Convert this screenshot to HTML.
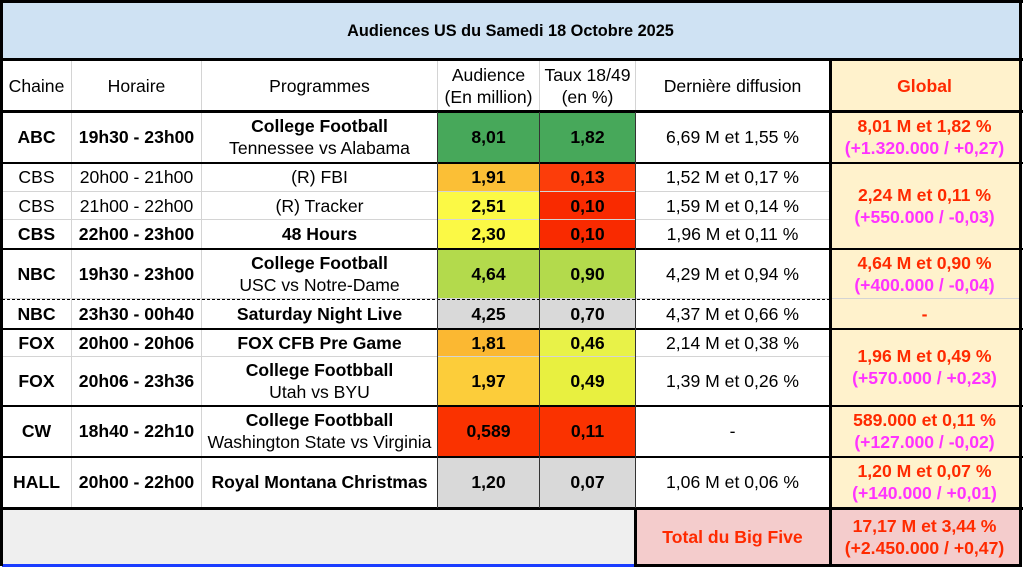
<!DOCTYPE html>
<html><head><meta charset="utf-8"><style>
body{margin:0;background:#fff;width:1023px;height:569px;position:relative;overflow:hidden;font-family:"Liberation Sans",Arial,sans-serif;color:#000}
.c{position:absolute;box-sizing:border-box;display:flex;flex-direction:column;align-items:center;justify-content:center;text-align:center;font-size:17.6px;line-height:22px;border-right:1px solid #d4d4d4;border-bottom:1px solid #d4d4d4;white-space:nowrap}
.b{font-weight:bold}
.r{color:#ff2a00;font-weight:bold}
.m{color:#ff33ff;font-weight:bold}
.h{position:absolute;background:#000}
.g{background:#fff2cc}
</style></head><body>
<div class="c b" style="left:2px;top:2px;width:1018px;height:58px;background:#cfe2f3;font-size:16.3px">Audiences US du Samedi 18 Octobre 2025</div>

<div class="c" style="left:2px;top:61px;width:70px;height:51px">Chaine</div>
<div class="c" style="left:72px;top:61px;width:130px;height:51px">Horaire</div>
<div class="c" style="left:202px;top:61px;width:236px;height:51px">Programmes</div>
<div class="c" style="left:438px;top:61px;width:102px;height:51px">Audience<br>(En million)</div>
<div class="c" style="left:540px;top:61px;width:96px;height:51px">Taux 18/49<br>(en %)</div>
<div class="c" style="left:636px;top:61px;width:194px;height:51px">Dernière diffusion</div>
<div class="c g r" style="left:830px;top:61px;width:190px;height:51px">Global</div>

<div class="c b" style="left:2px;top:112px;width:70px;height:51px">ABC</div>
<div class="c b" style="left:72px;top:112px;width:130px;height:51px">19h30 - 23h00</div>
<div class="c" style="left:202px;top:112px;width:236px;height:51px"><b>College Football</b>Tennessee vs Alabama</div>
<div class="c b" style="left:438px;top:112px;width:102px;height:51px;background:#47a85a">8,01</div>
<div class="c b" style="left:540px;top:112px;width:96px;height:51px;background:#47a85a">1,82</div>
<div class="c" style="left:636px;top:112px;width:194px;height:51px">6,69 M et 1,55 %</div>
<div class="c g" style="left:830px;top:112px;width:190px;height:51px"><span class="r">8,01 M et 1,82 %</span><span class="m">(+1.320.000 / +0,27)</span></div>

<div class="c" style="left:2px;top:163px;width:70px;height:29px">CBS</div>
<div class="c" style="left:72px;top:163px;width:130px;height:29px">20h00 - 21h00</div>
<div class="c" style="left:202px;top:163px;width:236px;height:29px">(R) FBI</div>
<div class="c b" style="left:438px;top:163px;width:102px;height:29px;background:#fbbf36">1,91</div>
<div class="c b" style="left:540px;top:163px;width:96px;height:29px;background:#fc3d0a">0,13</div>
<div class="c" style="left:636px;top:163px;width:194px;height:29px">1,52 M et 0,17 %</div>

<div class="c" style="left:2px;top:192px;width:70px;height:28px">CBS</div>
<div class="c" style="left:72px;top:192px;width:130px;height:28px">21h00 - 22h00</div>
<div class="c" style="left:202px;top:192px;width:236px;height:28px">(R) Tracker</div>
<div class="c b" style="left:438px;top:192px;width:102px;height:28px;background:#fbf945">2,51</div>
<div class="c b" style="left:540px;top:192px;width:96px;height:28px;background:#f92a00">0,10</div>
<div class="c" style="left:636px;top:192px;width:194px;height:28px">1,59 M et 0,14 %</div>

<div class="c b" style="left:2px;top:220px;width:70px;height:29px">CBS</div>
<div class="c b" style="left:72px;top:220px;width:130px;height:29px">22h00 - 23h00</div>
<div class="c b" style="left:202px;top:220px;width:236px;height:29px">48 Hours</div>
<div class="c b" style="left:438px;top:220px;width:102px;height:29px;background:#fbf945">2,30</div>
<div class="c b" style="left:540px;top:220px;width:96px;height:29px;background:#f92a00">0,10</div>
<div class="c" style="left:636px;top:220px;width:194px;height:29px">1,96 M et 0,11 %</div>
<div class="c g" style="left:830px;top:163px;width:190px;height:86px"><span class="r">2,24 M et 0,11 %</span><span class="m">(+550.000 / -0,03)</span></div>

<div class="c b" style="left:2px;top:249px;width:70px;height:50px">NBC</div>
<div class="c b" style="left:72px;top:249px;width:130px;height:50px">19h30 - 23h00</div>
<div class="c" style="left:202px;top:249px;width:236px;height:50px"><b>College Football</b>USC vs Notre-Dame</div>
<div class="c b" style="left:438px;top:249px;width:102px;height:50px;background:#b3da4c">4,64</div>
<div class="c b" style="left:540px;top:249px;width:96px;height:50px;background:#b3da4c">0,90</div>
<div class="c" style="left:636px;top:249px;width:194px;height:50px">4,29 M et 0,94 %</div>
<div class="c g" style="left:830px;top:249px;width:190px;height:50px"><span class="r">4,64 M et 0,90 %</span><span class="m">(+400.000 / -0,04)</span></div>

<div class="c b" style="left:2px;top:299px;width:70px;height:30px">NBC</div>
<div class="c b" style="left:72px;top:299px;width:130px;height:30px">23h30 - 00h40</div>
<div class="c b" style="left:202px;top:299px;width:236px;height:30px">Saturday Night Live</div>
<div class="c b" style="left:438px;top:299px;width:102px;height:30px;background:#d9d9d9">4,25</div>
<div class="c b" style="left:540px;top:299px;width:96px;height:30px;background:#d9d9d9">0,70</div>
<div class="c" style="left:636px;top:299px;width:194px;height:30px">4,37 M et 0,66 %</div>
<div class="c g r" style="left:830px;top:299px;width:190px;height:30px">-</div>

<div class="c b" style="left:2px;top:329px;width:70px;height:28px">FOX</div>
<div class="c b" style="left:72px;top:329px;width:130px;height:28px">20h00 - 20h06</div>
<div class="c b" style="left:202px;top:329px;width:236px;height:28px">FOX CFB Pre Game</div>
<div class="c b" style="left:438px;top:329px;width:102px;height:28px;background:#fbb832">1,81</div>
<div class="c b" style="left:540px;top:329px;width:96px;height:28px;background:#e8f248">0,46</div>
<div class="c" style="left:636px;top:329px;width:194px;height:28px">2,14 M et 0,38 %</div>

<div class="c b" style="left:2px;top:357px;width:70px;height:49px">FOX</div>
<div class="c b" style="left:72px;top:357px;width:130px;height:49px">20h06 - 23h36</div>
<div class="c" style="left:202px;top:357px;width:236px;height:49px"><b>College Footbball</b>Utah vs BYU</div>
<div class="c b" style="left:438px;top:357px;width:102px;height:49px;background:#fccd3a">1,97</div>
<div class="c b" style="left:540px;top:357px;width:96px;height:49px;background:#e8f040">0,49</div>
<div class="c" style="left:636px;top:357px;width:194px;height:49px">1,39 M et 0,26 %</div>
<div class="c g" style="left:830px;top:329px;width:190px;height:77px"><span class="r">1,96 M et 0,49 %</span><span class="m">(+570.000 / +0,23)</span></div>

<div class="c b" style="left:2px;top:406px;width:70px;height:51px">CW</div>
<div class="c b" style="left:72px;top:406px;width:130px;height:51px">18h40 - 22h10</div>
<div class="c" style="left:202px;top:406px;width:236px;height:51px"><b>College Footbball</b>Washington State vs Virginia</div>
<div class="c b" style="left:438px;top:406px;width:102px;height:51px;background:#fa3200">0,589</div>
<div class="c b" style="left:540px;top:406px;width:96px;height:51px;background:#fa3200">0,11</div>
<div class="c" style="left:636px;top:406px;width:194px;height:51px">-</div>
<div class="c g" style="left:830px;top:406px;width:190px;height:51px"><span class="r">589.000 et 0,11 %</span><span class="m">(+127.000 / -0,02)</span></div>

<div class="c b" style="left:2px;top:457px;width:70px;height:51px">HALL</div>
<div class="c b" style="left:72px;top:457px;width:130px;height:51px">20h00 - 22h00</div>
<div class="c b" style="left:202px;top:457px;width:236px;height:51px">Royal Montana Christmas</div>
<div class="c b" style="left:438px;top:457px;width:102px;height:51px;background:#d9d9d9">1,20</div>
<div class="c b" style="left:540px;top:457px;width:96px;height:51px;background:#d9d9d9">0,07</div>
<div class="c" style="left:636px;top:457px;width:194px;height:51px">1,06 M et 0,06 %</div>
<div class="c g" style="left:830px;top:457px;width:190px;height:51px"><span class="r">1,20 M et 0,07 %</span><span class="m">(+140.000 / +0,01)</span></div>

<div class="c" style="left:2px;top:508px;width:634px;height:58px;background:#efefef"></div>
<div class="c r" style="left:636px;top:508px;width:194px;height:58px;background:#f4cccc">Total du Big Five</div>
<div class="c" style="left:830px;top:508px;width:190px;height:58px;background:#f4cccc"><span class="r">17,17 M et 3,44 %</span><span class="r">(+2.450.000 / +0,47)</span></div>
<div class="h" style="left:2px;top:564px;width:634px;height:3px;background:#1a3cff"></div>

<div class="h" style="left:0;top:0;width:1023px;height:3px"></div>
<div class="h" style="left:0;top:58px;width:1023px;height:3px"></div>
<div class="h" style="left:0;top:110px;width:1023px;height:3px"></div>
<div class="h" style="left:0;top:162px;width:1023px;height:2px"></div>
<div class="h" style="left:0;top:248px;width:1023px;height:2px"></div>
<div class="h" style="left:0;top:328px;width:1023px;height:2px"></div>
<div class="h" style="left:0;top:405px;width:1023px;height:2px"></div>
<div class="h" style="left:0;top:456px;width:1023px;height:2px"></div>
<div class="h" style="left:0;top:507px;width:1023px;height:3px"></div>
<div class="h" style="left:636px;top:564px;width:386px;height:3px"></div>
<div style="position:absolute;left:2px;top:299px;width:828px;border-top:1px dashed #000"></div>
<div class="h" style="left:0;top:0;width:3px;height:566px"></div>
<div class="h" style="left:1019px;top:0;width:3px;height:567px"></div>
<div class="h" style="left:829px;top:61px;width:3px;height:506px"></div>
<div class="h" style="left:634px;top:508px;width:3px;height:59px"></div>
<div class="h" style="left:437px;top:112px;width:1px;height:396px;background:#333"></div>
<div class="h" style="left:539px;top:112px;width:1px;height:396px;background:#333"></div>
<div class="h" style="left:635px;top:112px;width:1px;height:396px;background:#333"></div>
</body></html>
